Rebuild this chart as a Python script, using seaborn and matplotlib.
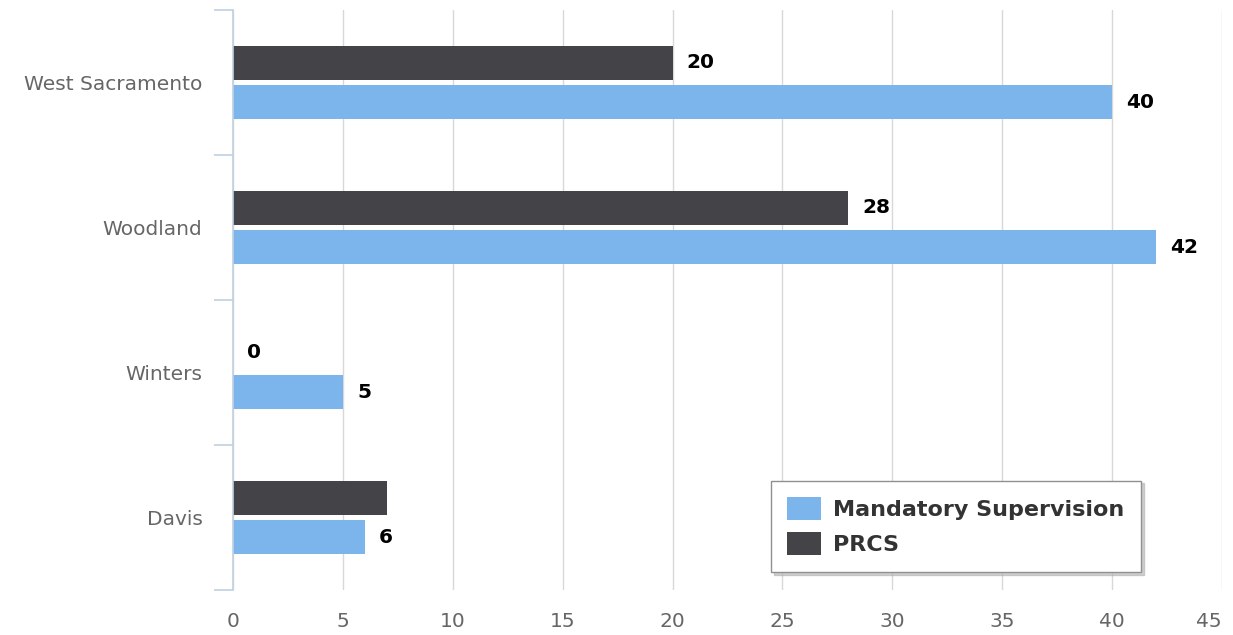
import matplotlib
matplotlib.use("Agg")
import matplotlib.pyplot as plt
from matplotlib.patches import Patch
import seaborn as sns
import pandas as pd
import numpy as np

cities = ["West Sacramento", "Woodland", "Winters", "Davis"]
mandatory = [40, 42, 5, 6]
prcs = [20, 28, 0, 7]
x_ticks = [0, 5, 10, 15, 20, 25, 30, 35, 40, 45]

series_names = ["Mandatory Supervision", "PRCS"]
colors = {"Mandatory Supervision": "#7cb5ec", "PRCS": "#434348"}

df = pd.DataFrame({
    "city": cities * 2,
    "value": mandatory + prcs,
    "series": ["Mandatory Supervision"] * 4 + ["PRCS"] * 4,
})

sns.set_style("white")
plt.rcParams['font.family'] = ['DejaVu Sans']

fig = plt.figure(figsize=(12.33, 6.35), dpi=100)
ax = fig.add_axes([233 / 1233, 1 - 590 / 635, 989 / 1233, 580 / 635])

# PRCS drawn on top inside each group, like the original
sns.barplot(data=df, y="city", x="value", hue="series", order=cities,
            hue_order=["PRCS", "Mandatory Supervision"], palette=colors,
            orient="h", width=0.54, gap=0.13, saturation=1, ax=ax,
            legend=False, linewidth=0)

ax.set_xlim(0, 45)
ax.set_ylim(3.5, -0.5)
ax.set_xticks(x_ticks)
ax.set_xlabel("")
ax.set_ylabel("")

# grid
ax.grid(axis="x", color="#d8d8d8", linewidth=1)
ax.set_axisbelow(True)
for side in ["top", "right", "bottom"]:
    ax.spines[side].set_visible(False)
ax.spines["left"].set_color("#c0d0e0")
ax.spines["left"].set_linewidth(1.2)

ax.tick_params(axis="x", length=0, pad=16, labelsize=14.5, labelcolor="#666666")
ax.tick_params(axis="y", which="major", length=0, pad=22, labelsize=14.5,
               labelcolor="#666666")
ax.set_yticks(np.arange(-0.5, 4.0, 1.0), minor=True)
ax.tick_params(axis="y", which="minor", left=True, length=14, width=1.2,
               color="#c0d0e0")
# last x label sits inside the figure, as in the original
ax.get_xticklabels()[-1].set_horizontalalignment("right")
ax.get_xticklabels()[-1].set_x(45.2)

# value labels (the original hides the Davis PRCS label)
hidden = {("PRCS", "Davis")}
for container, name in zip(ax.containers, ["PRCS", "Mandatory Supervision"]):
    vals = prcs if name == "PRCS" else mandatory
    for bar, city, v in zip(container, cities, vals):
        if (name, city) in hidden:
            continue
        ax.text(bar.get_width() + 0.65, bar.get_y() + bar.get_height() / 2,
                str(v), ha="left", va="center", fontsize=14.5,
                fontweight="bold", color="#000000")

# legend
handles = [Patch(facecolor=colors[n], edgecolor="none") for n in series_names]
leg = ax.legend(handles, series_names, loc="lower right",
                bbox_to_anchor=(0.918, 0.031), frameon=True, fancybox=False,
                shadow={"color": "#b0b0b0", "alpha": 0.6}, prop={"size": 16, "weight": "bold"},
                handlelength=1.5, handleheight=1.2, handletextpad=0.55,
                labelspacing=0.55, borderpad=0.75, borderaxespad=0)
leg.get_frame().set_edgecolor("#909090")
leg.get_frame().set_linewidth(1)
for t in leg.get_texts():
    t.set_color("#333333")

plt.savefig("out.png", dpi=100)
